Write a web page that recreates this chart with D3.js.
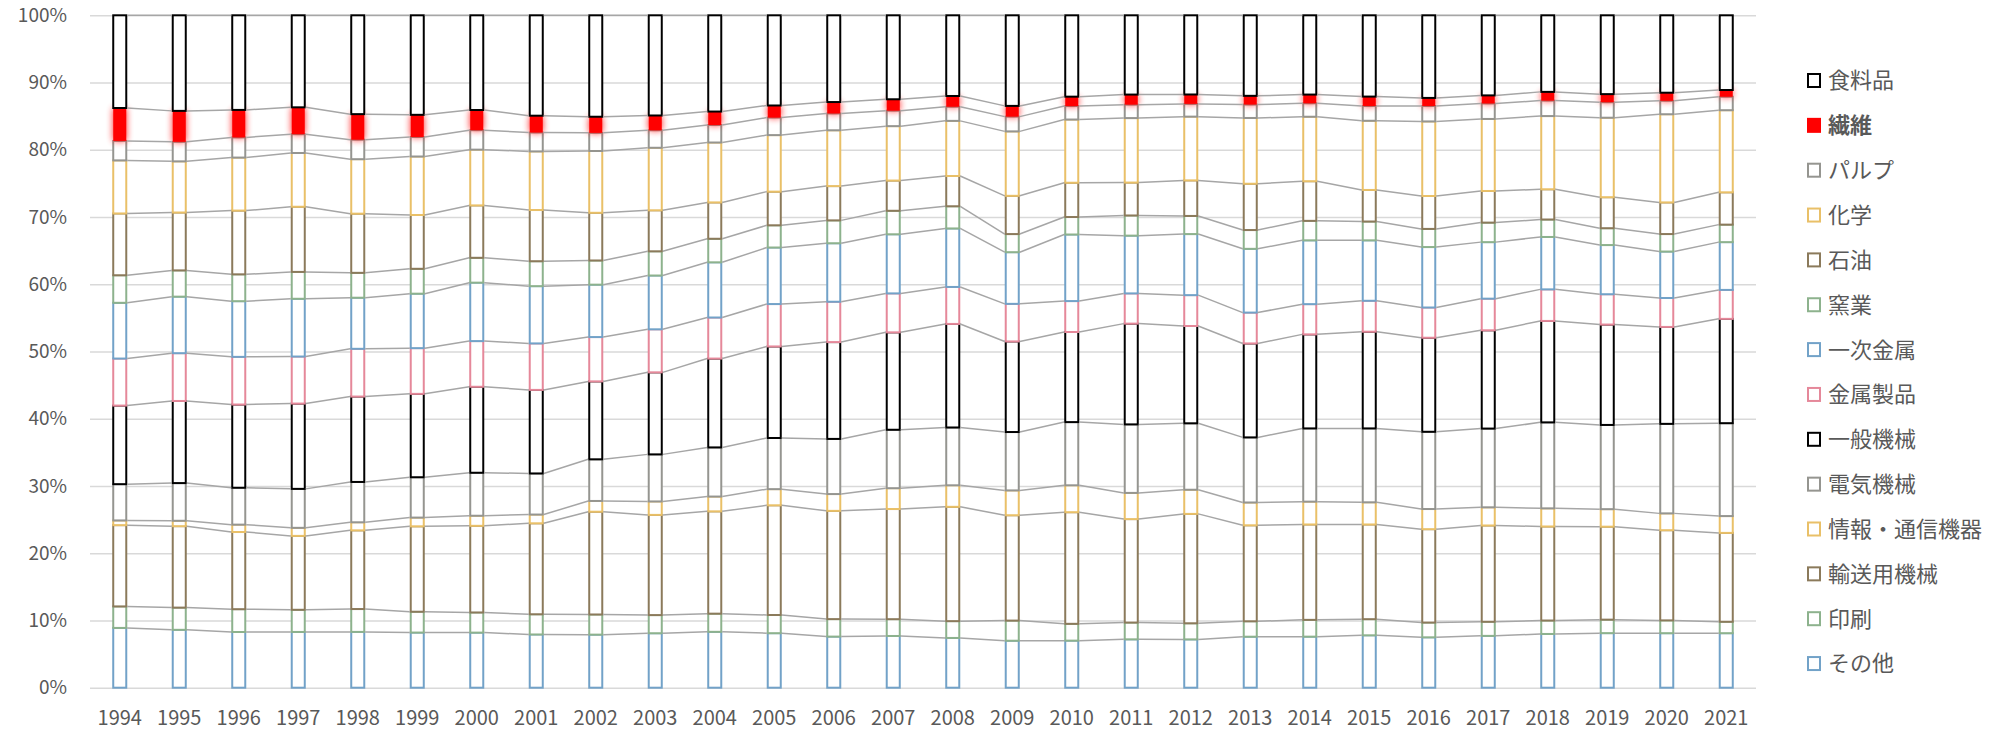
<!DOCTYPE html>
<html lang="ja">
<head>
<meta charset="utf-8">
<script src="https://cdn.jsdelivr.net/npm/d3@7"></script>
<style>
  html, body { margin: 0; padding: 0; background: #fff; }
  svg { display: block; font-family: "Noto Sans CJK JP", "Noto Sans", sans-serif; }
</style>
</head>
<body>
<svg id="chart" width="1998" height="731"></svg>
<script>
// Years on the category axis
const years = [1994, 1995, 1996, 1997, 1998, 1999, 2000, 2001, 2002, 2003, 2004, 2005, 2006, 2007,
               2008, 2009, 2010, 2011, 2012, 2013, 2014, 2015, 2016, 2017, 2018, 2019, 2020, 2021];

// Share of each industry (%), one value per year
const sonota    = [8.9, 8.6, 8.3, 8.3, 8.3, 8.2, 8.2, 7.9, 7.9, 8.1, 8.3, 8.1, 7.6, 7.7, 7.4, 7.0, 7.0, 7.2, 7.2, 7.6, 7.6, 7.8, 7.5, 7.7, 8.0, 8.1, 8.1, 8.1];
const insatsu   = [3.2, 3.3, 3.4, 3.3, 3.4, 3.1, 3.0, 3.0, 3.0, 2.7, 2.7, 2.7, 2.6, 2.5, 2.5, 3.0, 2.5, 2.5, 2.4, 2.3, 2.5, 2.4, 2.2, 2.1, 2.0, 2.0, 1.9, 1.7];
const yusou     = [12.1, 12.1, 11.5, 11.0, 11.7, 12.7, 12.9, 13.5, 15.3, 14.9, 15.2, 16.3, 16.1, 16.4, 17.0, 15.7, 16.6, 15.4, 16.3, 14.3, 14.2, 14.1, 13.9, 14.3, 14.0, 13.8, 13.4, 13.2];
const jouhou    = [0.7, 0.8, 1.1, 1.2, 1.2, 1.3, 1.5, 1.3, 1.6, 2.0, 2.2, 2.4, 2.5, 3.1, 3.2, 3.7, 4.0, 3.9, 3.6, 3.4, 3.4, 3.3, 3.0, 2.7, 2.7, 2.6, 2.5, 2.5];
const denki     = [5.4, 5.6, 5.5, 5.8, 6.0, 6.0, 6.4, 6.1, 6.2, 7.0, 7.3, 7.6, 8.2, 8.7, 8.6, 8.7, 9.4, 10.2, 9.9, 9.7, 10.9, 11.0, 11.5, 11.7, 12.8, 12.5, 13.3, 13.8];
const ippan     = [11.7, 12.2, 12.4, 12.7, 12.7, 12.4, 12.8, 12.4, 11.6, 12.2, 13.2, 13.6, 14.4, 14.5, 15.4, 13.5, 13.4, 15.0, 14.5, 14.0, 14.0, 14.4, 14.0, 14.6, 15.1, 14.9, 14.4, 15.5];
const kinzoku   = [7.0, 7.1, 7.1, 7.0, 7.1, 6.8, 6.8, 6.9, 6.6, 6.4, 6.1, 6.3, 6.0, 5.8, 5.5, 5.6, 4.6, 4.5, 4.6, 4.6, 4.5, 4.6, 4.5, 4.7, 4.7, 4.5, 4.3, 4.3];
const ichiji    = [8.3, 8.4, 8.3, 8.6, 7.6, 8.1, 8.7, 8.5, 7.8, 8.0, 8.2, 8.4, 8.7, 8.8, 8.7, 7.7, 9.9, 8.6, 9.1, 9.5, 9.5, 9.0, 9.0, 8.4, 7.8, 7.3, 6.9, 7.1];
const yougyou   = [4.1, 3.9, 4.0, 4.0, 3.7, 3.7, 3.7, 3.7, 3.6, 3.6, 3.5, 3.3, 3.4, 3.5, 3.3, 2.7, 2.6, 3.0, 2.7, 2.8, 2.9, 2.8, 2.7, 2.9, 2.6, 2.5, 2.6, 2.6];
const sekiyu    = [9.2, 8.6, 9.5, 9.7, 8.8, 8.0, 7.8, 7.6, 7.1, 6.1, 5.4, 5.0, 5.1, 4.5, 4.5, 5.7, 5.1, 4.9, 5.3, 6.9, 5.9, 4.7, 4.9, 4.7, 4.5, 4.6, 4.7, 4.8];
const kagaku    = [7.9, 7.6, 7.9, 8.0, 8.1, 8.7, 8.3, 8.7, 9.2, 9.3, 8.9, 8.4, 8.3, 8.1, 8.2, 9.6, 9.4, 9.6, 9.5, 9.8, 9.6, 10.3, 11.1, 10.7, 10.9, 11.8, 13.1, 12.2];
const pulp      = [2.9, 2.9, 3.0, 2.8, 2.9, 2.9, 2.9, 2.8, 2.7, 2.6, 2.6, 2.6, 2.5, 2.3, 2.1, 2.2, 2.0, 2.0, 1.9, 2.0, 2.0, 2.2, 2.3, 2.3, 2.3, 2.3, 2.0, 2.0];
const seni      = [4.9, 4.6, 4.1, 4.0, 3.8, 3.3, 3.0, 2.5, 2.4, 2.2, 2.0, 1.8, 1.7, 1.7, 1.6, 1.6, 1.4, 1.5, 1.4, 1.3, 1.3, 1.4, 1.2, 1.2, 1.3, 1.2, 1.2, 1.0];
const shokuryou = [13.8, 14.2, 14.1, 13.7, 14.7, 14.8, 14.1, 14.9, 15.1, 14.9, 14.3, 13.4, 12.9, 12.5, 12.0, 13.5, 12.1, 11.8, 11.8, 12.0, 11.8, 12.1, 12.3, 11.9, 11.4, 11.7, 11.5, 11.1];

// Percent axis ticks
const yTicks = [0, 0.1, 0.2, 0.3, 0.4, 0.5, 0.6, 0.7, 0.8, 0.9, 1.0];

// Stack order, bottom to top
const series = [
  { name: "その他",         values: sonota,    color: "#72A2C8" },
  { name: "印刷",           values: insatsu,   color: "#8DB28D" },
  { name: "輸送用機械",     values: yusou,     color: "#8B7A5B" },
  { name: "情報・通信機器", values: jouhou,    color: "#E9C068" },
  { name: "電気機械",       values: denki,     color: "#959590" },
  { name: "一般機械",       values: ippan,     color: "#000000" },
  { name: "金属製品",       values: kinzoku,   color: "#E5889A" },
  { name: "一次金属",       values: ichiji,    color: "#72A2C8" },
  { name: "窯業",           values: yougyou,   color: "#8DB28D" },
  { name: "石油",           values: sekiyu,    color: "#8B7A5B" },
  { name: "化学",           values: kagaku,    color: "#E9C068" },
  { name: "パルプ",         values: pulp,      color: "#959590" },
  { name: "繊維",           values: seni,      color: "#FF0000", filled: true },
  { name: "食料品",         values: shokuryou, color: "#000000" }
];

const rows = years.map((yr, i) => {
  const r = { year: yr };
  series.forEach(s => { r[s.name] = s.values[i]; });
  return r;
});

const stacked = d3.stack()
  .keys(series.map(s => s.name))
  .offset(d3.stackOffsetExpand)(rows);

const svg = d3.select("#chart");
const plot = { left: 90, right: 1756, top: 15.3, bottom: 687.7 };

const x = d3.scaleBand()
  .domain(years)
  .range([plot.left, plot.right])
  .paddingInner(0.781)
  .paddingOuter(0.3905);

const y = d3.scaleLinear().domain([0, 1]).range([plot.bottom, plot.top]);

// Soft red halo for the textile bars
const defs = svg.append("defs");
const glow = defs.append("filter").attr("id", "halo")
  .attr("x", "-150%").attr("y", "-150%").attr("width", "400%").attr("height", "400%");
glow.append("feGaussianBlur").attr("in", "SourceGraphic").attr("stdDeviation", 3.6).attr("result", "blur");
glow.append("feComponentTransfer").attr("in", "blur").attr("result", "soft")
  .append("feFuncA").attr("type", "linear").attr("slope", 0.85);
const merge = glow.append("feMerge");
merge.append("feMergeNode").attr("in", "soft");
merge.append("feMergeNode").attr("in", "SourceGraphic");

// Gridlines
svg.append("g")
  .attr("transform", `translate(${plot.left},0)`)
  .call(d3.axisLeft(y).tickValues(yTicks).tickSize(-(plot.right - plot.left)).tickFormat(""))
  .call(g => g.select(".domain").remove())
  .call(g => g.selectAll("line").attr("stroke", "#D9D9D9").attr("stroke-width", 1.5));

// Y axis labels
svg.append("g")
  .attr("transform", `translate(${plot.left},0)`)
  .call(d3.axisLeft(y).tickValues(yTicks).tickSize(0).tickPadding(23).tickFormat(d3.format(".0%")))
  .call(g => g.select(".domain").remove())
  .call(g => g.selectAll("text")
    .attr("fill", "#595959")
    .style("font-size", "19px")
    .style("font-family", "'Noto Sans CJK JP', sans-serif"));

// X axis labels
svg.append("g")
  .attr("transform", `translate(0,${plot.bottom})`)
  .call(d3.axisBottom(x).tickSize(0).tickPadding(23))
  .call(g => g.select(".domain").remove())
  .call(g => g.selectAll("text")
    .attr("fill", "#595959")
    .style("font-size", "20px")
    .style("font-family", "'Noto Sans CJK JP', sans-serif"));

// Bars
const bw = x.bandwidth();
const sw = 2;
const layers = svg.append("g").selectAll("g")
  .data(stacked)
  .join("g");

layers.each(function (layer, li) {
  const s = series[li];
  d3.select(this).selectAll("rect")
    .data(layer)
    .join("rect")
    .attr("x", d => x(d.data.year))
    .attr("y", d => y(d[1]))
    .attr("width", bw)
    .attr("height", d => Math.max(0, y(d[0]) - y(d[1])))
    .attr("fill", s.filled ? s.color : "#FFFFFF")
    .attr("stroke", s.color)
    .attr("stroke-width", s.filled ? 0 : sw)
    .attr("filter", s.filled ? "url(#halo)" : null);
});

// Series lines joining the top of each segment between neighbouring bars
const seriesLines = svg.append("g");
stacked.forEach(layer => {
  seriesLines.selectAll(null)
    .data(d3.pairs(layer))
    .join("line")
    .attr("x1", ([a]) => x(a.data.year) + bw + sw / 2)
    .attr("y1", ([a]) => y(a[1]))
    .attr("x2", ([, b]) => x(b.data.year) - sw / 2)
    .attr("y2", ([, b]) => y(b[1]))
    .attr("stroke", "#A6A6A6")
    .attr("stroke-width", 1.5);
});

// Legend, top series first
const legendItems = series.slice().reverse();
const legend = svg.append("g").attr("transform", "translate(1808,80.5)");
const item = legend.selectAll("g")
  .data(legendItems)
  .join("g")
  .attr("transform", (d, i) => `translate(0,${i * 44.85})`);

item.append("rect")
  .attr("x", d => d.filled ? -1 : 0)
  .attr("y", d => d.filled ? -7.5 : -6.5)
  .attr("width", d => d.filled ? 14 : 12)
  .attr("height", d => d.filled ? 15 : 13)
  .attr("fill", d => d.filled ? d.color : "#FFFFFF")
  .attr("stroke", d => d.color)
  .attr("stroke-width", d => d.filled ? 0 : 2);

item.append("text")
  .attr("x", 20)
  .attr("y", 0)
  .attr("dy", "0.36em")
  .attr("fill", "#595959")
  .style("font-size", "22px")
  .style("font-weight", d => d.filled ? "bold" : "normal")
  .text(d => d.name);
</script>
</body>
</html>
